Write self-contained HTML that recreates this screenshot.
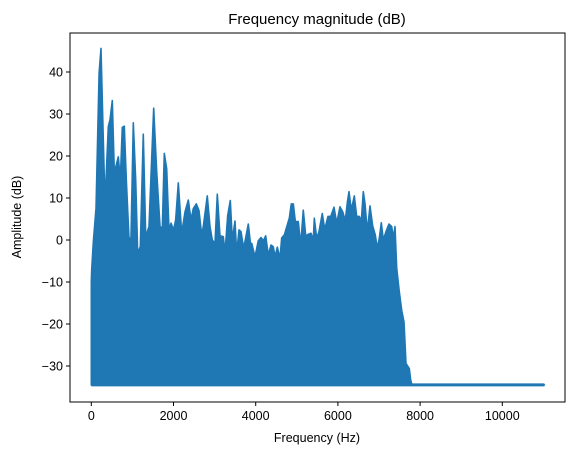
<!DOCTYPE html>
<html><head><meta charset="utf-8"><style>
body{margin:0;background:#fff}
svg{display:block;font-family:"Liberation Sans","DejaVu Sans",sans-serif}
</style></head><body>
<svg id="chart" width="574" height="455" viewBox="0 0 574 455" xmlns="http://www.w3.org/2000/svg">
<rect width="574" height="455" fill="#fff"/>
<text x="317" y="24" font-size="15" text-anchor="middle">Frequency magnitude (dB)</text>
<text x="317" y="442" font-size="12.5" text-anchor="middle">Frequency (Hz)</text>
<text transform="translate(21,217) rotate(-90)" font-size="12.5" text-anchor="middle">Amplitude (dB)</text>
<g id="series"></g>
<g id="axes"></g>
</svg>
<script>
const freqs=[0,10,50,115,190,236,292,333,414,455,511,560,608,657,706,754,803,852,917,966,1022,1080,1129,1192,1265,1324,1404,1518,1591,1672,1728,1776,1834,1890,1939,2004,2053,2117,2199,2280,2360,2426,2482,2555,2620,2686,2725,2822,2888,2944,3010,3066,3131,3212,3253,3318,3382,3431,3496,3537,3594,3642,3708,3820,3886,3903,3983,4063,4129,4185,4243,4307,4372,4428,4470,4526,4591,4632,4696,4769,4818,4866,4915,4964,5036,5095,5158,5217,5290,5346,5401,5426,5484,5540,5620,5679,5759,5825,5905,5971,6051,6117,6180,6229,6270,6326,6399,6457,6521,6569,6618,6659,6715,6781,6847,6910,6959,7007,7056,7105,7170,7243,7309,7348,7389,7431,7494,7552,7608,7657,7737,7770,7800,11025];
const amps=[-10,-7,-0.4,7.6,39.8,45.6,23.8,8.8,27,28.6,33.2,16,17.9,19.8,14.3,26.8,27.1,14.3,0.4,0.5,27.9,14.3,-3.2,-1.6,25.2,0.8,3.2,31.4,16.3,3.2,2.9,20.6,17,2.4,4,2.4,4.8,13.6,1.6,6.7,9.5,4.8,7.5,8.6,7,1.2,3.2,10.5,3.2,0,-0.8,10.9,1,0.8,-3.1,5.8,9.4,0,4.5,-3.2,2.4,2,-2,3.8,-2,-0.8,-4,-0.2,0.6,-0.2,1,-3.6,-1.2,-1.6,-4,-1.7,-4.4,0.5,1.2,3.6,5.2,8.6,8.6,4.4,4.4,-1.2,7.1,1,1.4,1.6,0,5.2,0.4,2,6.3,2.5,5.6,5.6,7.8,4,7.9,6.7,4.6,8.9,11.5,7.1,10.5,5.6,5.6,4.4,11.5,8.7,2,8.1,3.3,1.2,-2,0.4,4.1,0,2,3.8,3.2,0.4,3.2,-6.7,-12.3,-16.7,-19.5,-29.4,-30.6,-33.3,-34.5,-34.5];
const floorDb=-34.5;
const xTicks=[0,2000,4000,6000,8000,10000];
const yTicks=[-30,-20,-10,0,10,20,30,40];
const NS="http://www.w3.org/2000/svg";
const X0=70,X1=565,Y0=33,Y1=402;
function xs(f){return 91.3+f*0.0411;}
function ys(v){return 72+(40-v)*4.2;}
const ser=document.getElementById('series');
let d='M'+xs(freqs[0])+','+ys(floorDb);
for(let i=0;i<freqs.length;i++)d+=' L'+xs(freqs[i]).toFixed(2)+','+ys(amps[i]).toFixed(2);
d+=' L'+xs(freqs[freqs.length-1])+','+ys(floorDb)+' Z';
const p=document.createElementNS(NS,'path');


p.setAttribute('d',d);p.setAttribute('fill','#1f77b4');p.setAttribute('stroke','#1f77b4');
p.setAttribute('stroke-width','1.6');p.setAttribute('stroke-linejoin','round');
ser.appendChild(p);
const fl=document.createElementNS(NS,'line');


fl.setAttribute('x1',xs(freqs[0]));fl.setAttribute('x2',xs(freqs[freqs.length-1]));
fl.setAttribute('y1',ys(floorDb));fl.setAttribute('y2',ys(floorDb));
fl.setAttribute('stroke','#1f77b4');fl.setAttribute('stroke-width','3');
ser.appendChild(fl);
const ax=document.getElementById('axes');
const fr=document.createElementNS(NS,'rect');


fr.setAttribute('x',X0);fr.setAttribute('y',Y0);fr.setAttribute('width',X1-X0);fr.setAttribute('height',Y1-Y0);
fr.setAttribute('fill','none');fr.setAttribute('stroke','#000');fr.setAttribute('stroke-width','1');
ax.appendChild(fr);
xTicks.forEach(t=>{const x=xs(t);
const l=document.createElementNS(NS,'line');


l.setAttribute('x1',x);l.setAttribute('x2',x);l.setAttribute('y1',Y1);l.setAttribute('y2',Y1+4);l.setAttribute('stroke','#000');ax.appendChild(l);
const tx=document.createElementNS(NS,'text');


tx.setAttribute('x',x);tx.setAttribute('y',Y1+18);tx.setAttribute('font-size','12.5');tx.setAttribute('text-anchor','middle');tx.textContent=t;ax.appendChild(tx);});
yTicks.forEach(t=>{const y=ys(t);
const l=document.createElementNS(NS,'line');


l.setAttribute('x1',X0-4);l.setAttribute('x2',X0);l.setAttribute('y1',y);l.setAttribute('y2',y);l.setAttribute('stroke','#000');ax.appendChild(l);
const tx=document.createElementNS(NS,'text');


tx.setAttribute('x',X0-7);tx.setAttribute('y',y+4.5);tx.setAttribute('font-size','12.5');tx.setAttribute('text-anchor','end');tx.textContent=t<0?'\u2212'+(-t):t;ax.appendChild(tx);});
</script>
</body></html>
